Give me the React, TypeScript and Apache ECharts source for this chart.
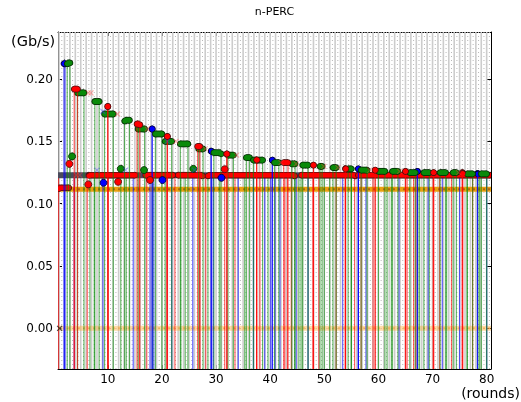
import React, { useEffect, useRef } from "react";
import * as echarts from "echarts";

const X_MIN = 0.8;
const X_MAX = 80.8;
const Y_MIN = -0.0326;
const Y_MAX = 0.2378;
const xTicks = [10, 20, 30, 40, 50, 60, 70, 80];
const yTicks = [0, 0.05, 0.1, 0.15, 0.2];

// Level of the dark base band and of the orange band (Gb/s)
const BASE_BAND = 0.1229;
const ORANGE_BAND = 0.1117;
const ZERO_BAND = 0.0;

// Green plateaus: [startRound, endRound, Gb/s]
const greenPlateaus = [
  [2.5, 3.0, 0.213], [4.4, 5.6, 0.189], [7.6, 8.4, 0.182], [9.4, 11.0, 0.172],
  [13.1, 14.0, 0.167], [15.6, 16.8, 0.16], [18.8, 20.0, 0.156], [20.6, 21.8, 0.15],
  [23.4, 24.8, 0.148], [26.8, 27.6, 0.144], [29.6, 30.9, 0.141], [32.2, 33.2, 0.139],
  [35.6, 36.2, 0.137], [36.9, 38.6, 0.135], [40.8, 41.6, 0.133], [44.0, 44.6, 0.132],
  [46.0, 47.0, 0.131], [49.2, 49.6, 0.13], [51.6, 52.2, 0.129], [54.4, 55.0, 0.128],
  [56.8, 57.9, 0.127], [60.0, 61.2, 0.126], [62.6, 63.6, 0.126], [65.8, 66.8, 0.125],
  [68.4, 69.4, 0.125], [71.4, 72.4, 0.125], [73.8, 74.4, 0.125], [76.4, 77.4, 0.124],
  [79.0, 80.0, 0.124],
];
// Red peaks: [startRound, endRound, Gb/s]
const redPeaks = [
  [3.8, 4.4, 0.192], [10.0, 10.0, 0.178], [15.4, 15.9, 0.164], [21.0, 21.0, 0.154],
  [26.6, 27.0, 0.146], [32.0, 32.0, 0.14], [37.5, 37.5, 0.136], [42.5, 43.3, 0.133],
  [48.0, 48.0, 0.131], [53.9, 53.9, 0.129], [59.4, 59.4, 0.127], [65.0, 65.0, 0.126],
  [70.2, 70.2, 0.125], [75.5, 75.5, 0.125],
];
// Blue peaks: [startRound, endRound, Gb/s]
const bluePeaks = [
  [1.9, 2.1, 0.213], [18.2, 18.2, 0.16], [29.1, 29.1, 0.143], [40.4, 40.4, 0.135],
  [56.3, 56.3, 0.128], [67.2, 67.2, 0.126], [78.3, 78.3, 0.125],
];
// Isolated points: [round, Gb/s]
const redPoints = [[2.9, 0.132], [6.4, 0.1155], [11.9, 0.1176], [17.8, 0.119], [31.6, 0.1277]];
const bluePoints = [[9.2, 0.1168], [20.1, 0.119], [31.0, 0.1208]];
const greenPoints = [[3.4, 0.138], [12.4, 0.128], [16.7, 0.127], [25.8, 0.128]];
const blackPoints = [[1.1, 0.0]];
// Red marker runs along the base band: [startRound, endRound]
const redBandRuns = [[6.5, 15.0], [17.0, 22.0], [23.0, 27.5], [28.5, 44.5], [45.8, 55.7], [56.3, 80.6]];
// Red run at the left on the orange band
const redLeftRun = [[0.9, 2.8, 0.1128]];
// Faint "x" markers: [round, Gb/s]
const pinkCrosses = [
  [6.4, 0.189], [6.9, 0.189], [11.8, 0.172], [17.3, 0.16], [22.6, 0.15], [28.0, 0.144],
  [33.8, 0.139], [42.0, 0.133], [44.8, 0.132], [49.9, 0.13], [52.5, 0.129], [58.4, 0.127],
  [63.9, 0.126], [74.8, 0.125], [4.2, 0.123], [4.8, 0.123],
];
const blueCrosses = [[8.0, 0.127], [13.3, 0.127], [21.0, 0.15], [9.1, 0.174], [26.0, 0.127]];
// Rounds where the traces fall below the axis (vertical lines)
const blueDrops = [2.0, 3.8, 9.1, 14.7, 17.8, 18.5, 21.8, 25.7, 29.2, 29.5, 34.1, 36.9, 39.0, 40.1, 40.9, 41.8, 44.8, 47.0, 53.4, 56.3, 57.7, 63.8, 69.2, 71.8, 75.0, 80.0];
const redDrops = [0.9, 3.8, 6.2, 10.1, 15.8, 17.2, 20.9, 22.4, 27.0, 28.1, 31.6, 33.5, 37.5, 38.1, 42.7, 43.2, 43.9, 47.9, 49.0, 52.2, 53.9, 55.6, 56.8, 59.0, 65.3, 66.5, 66.9, 70.1, 71.3, 73.5, 75.6, 77.4];
const greenDrops = [6.7, 7.5, 12.4, 13.4, 18.3, 23.5, 24.3, 28.5, 30.6, 35.3, 39.6, 44.5, 45.3, 45.7, 50.0, 51.0, 55.0, 61.6, 62.4, 67.3, 67.6, 72.6, 76.4, 78.4, 78.7];

const RED = "#ff0000";
const BLUE = "#0000ff";
const GREEN = "#0a8a0a";
const FONT = "DejaVu Sans";
const LINE_W = 1.2;
const LINE_OP = 0.62;

const gridRounds = Array.from({ length: 80 }, (_, i) => [i + 1]);
const halfRounds = Array.from({ length: 80 }, (_, i) => [i + 1.5]);

function vlineRender(color: string, width: number, opacity: number, dash?: number[]) {
  return (_p: any, api: any) => {
    const x = api.value(0);
    const a = api.coord([x, Y_MIN]);
    const b = api.coord([x, Y_MAX]);
    return {
      type: "line",
      shape: { x1: a[0], y1: a[1], x2: b[0], y2: b[1] },
      style: { stroke: color, lineWidth: width, opacity, lineDash: dash },
    };
  };
}

function dropRender(color: string) {
  return (_p: any, api: any) => {
    const x = api.value(0);
    const top = api.value(1);
    const a = api.coord([x, Y_MIN]);
    const b = api.coord([x, top]);
    return {
      type: "line",
      shape: { x1: a[0], y1: a[1], x2: b[0], y2: b[1] },
      style: { stroke: color, lineWidth: LINE_W, opacity: LINE_OP },
    };
  };
}

function pillRender(fill: string, edge: string, withLines: boolean, r: number) {
  return (_p: any, api: any) => {
    const s = api.value(0);
    const e = api.value(1);
    const v = api.value(2);
    const ps = api.coord([s, v]);
    const pe = api.coord([e, v]);
    const children: any[] = [];
    if (withLines) {
      const bs = api.coord([s, Y_MIN]);
      const be = api.coord([e, Y_MIN]);
      children.push({ type: "line", shape: { x1: bs[0], y1: bs[1], x2: ps[0], y2: ps[1] }, style: { stroke: fill, lineWidth: LINE_W, opacity: LINE_OP } });
      children.push({ type: "line", shape: { x1: be[0], y1: be[1], x2: pe[0], y2: pe[1] }, style: { stroke: fill, lineWidth: LINE_W, opacity: LINE_OP } });
    }
    const w = Math.max(0, pe[0] - ps[0]);
    const ri = r - 0.9;
    children.push({ type: "rect", shape: { x: ps[0], y: ps[1] - r, width: w, height: 2 * r }, style: { fill: edge } });
    children.push({ type: "circle", shape: { cx: ps[0], cy: ps[1], r }, style: { fill: edge } });
    children.push({ type: "circle", shape: { cx: pe[0], cy: pe[1], r }, style: { fill: edge } });
    children.push({ type: "rect", shape: { x: ps[0], y: ps[1] - ri, width: w, height: 2 * ri }, style: { fill } });
    children.push({ type: "circle", shape: { cx: ps[0], cy: ps[1], r: ri }, style: { fill } });
    children.push({ type: "circle", shape: { cx: pe[0], cy: pe[1], r: ri }, style: { fill } });
    return { type: "group", children };
  };
}

function bandRender(color: string, width: number, dashColor?: string) {
  return (_p: any, api: any) => {
    const v = api.value(0);
    const a = api.coord([X_MIN, v]);
    const b = api.coord([X_MAX, v]);
    const children: any[] = [
      { type: "line", shape: { x1: a[0], y1: a[1], x2: b[0], y2: b[1] }, style: { stroke: color, lineWidth: width } },
    ];
    if (dashColor) {
      children.push({ type: "line", shape: { x1: a[0], y1: a[1], x2: b[0], y2: b[1] }, style: { stroke: dashColor, lineWidth: 2, lineDash: [2, 3] } });
    }
    return { type: "group", children };
  };
}

const CROSS = "path://M0 0L10 10M10 0L0 10";

export default function App() {
  const ref = useRef<HTMLDivElement>(null);
  useEffect(() => {
    if (!ref.current) return;
    const chart = echarts.init(ref.current, null, { renderer: "svg" });
    const axisBase = {
      type: "value",
      axisLine: { show: true, onZero: false, lineStyle: { color: "#000", width: 1 } },
      splitLine: { show: false },
    };
    const custom = (name: string, data: any[], renderItem: any, dims: any, z = 2) => ({
      type: "custom",
      name,
      data,
      renderItem,
      encode: dims,
      clip: true,
      z,
      silent: true,
    });
    chart.setOption({
      animation: false,
      grid: { left: 58, right: 30, top: 32, bottom: 33 },
      xAxis: [
        {
          ...axisBase,
          position: "bottom",
          min: X_MIN,
          max: X_MAX,
          axisTick: { show: true, inside: true, length: 4, customValues: xTicks, lineStyle: { color: "#000" } },
          axisLabel: { customValues: xTicks, color: "#000", fontSize: 12, fontFamily: FONT, margin: 4 },
        },
        {
          ...axisBase,
          position: "top",
          min: X_MIN,
          max: X_MAX,
          axisTick: { show: true, inside: true, length: 4, customValues: xTicks, lineStyle: { color: "#000" } },
          axisLabel: { show: false },
        },
      ],
      yAxis: [
        {
          ...axisBase,
          position: "left",
          min: Y_MIN,
          max: Y_MAX,
          axisTick: { show: true, inside: true, length: 4, customValues: yTicks, lineStyle: { color: "#000" } },
          axisLabel: {
            customValues: yTicks,
            color: "#000",
            fontSize: 12,
            fontFamily: FONT,
            margin: 5,
            formatter: (v: number) => v.toFixed(2),
          },
        },
        {
          ...axisBase,
          position: "right",
          min: Y_MIN,
          max: Y_MAX,
          axisTick: { show: true, inside: true, length: 4, customValues: yTicks, lineStyle: { color: "#000" } },
          axisLabel: { show: false },
        },
      ],
      graphic: [
        { type: "text", x: 274.5, y: 11, style: { text: "n-PERC", fontSize: 11, fontFamily: FONT, fill: "#000", align: "center", verticalAlign: "middle" } },
        { type: "text", x: 11, y: 41, style: { text: "(Gb/s)", fontSize: 14.5, fontFamily: FONT, fill: "#000", align: "left", verticalAlign: "middle" } },
        { type: "text", x: 520, y: 393, style: { text: "(rounds)", fontSize: 14, fontFamily: FONT, fill: "#000", align: "right", verticalAlign: "middle" } },
      ],
      series: [
        custom("grid-solid", gridRounds, vlineRender("#cccccc", 1.6, 1), { x: 0 }, 1),
        custom("grid-dot", halfRounds, vlineRender("#b8b8b8", 1, 1, [1, 3]), { x: 0 }, 1),
        custom("zero-band", [[ZERO_BAND]], bandRender("rgba(255,175,60,0.45)", 5, "rgba(240,150,40,0.45)"), { y: 0 }, 2),
        custom("orange-band", [[ORANGE_BAND]], bandRender("#e8a010", 5, "#b06a10"), { y: 0 }, 2),
        custom("blue-drops", blueDrops.map((x) => [x, BASE_BAND]), dropRender(BLUE), { x: 0, y: 1 }, 3),
        custom("green-drops", greenDrops.map((x) => [x, BASE_BAND]), dropRender(GREEN), { x: 0, y: 1 }, 3),
        custom("red-drops", redDrops.map((x) => [x, BASE_BAND]), dropRender(RED), { x: 0, y: 1 }, 3),
        custom("base-band", [[BASE_BAND]], bandRender("#4a4a5c", 6), { y: 0 }, 4),
        custom("red-band", redBandRuns.map((r) => [r[0], r[1], BASE_BAND]), pillRender(RED, "#5a1010", false, 3.3), { x: [0, 1], y: 2 }, 5),
        custom("red-left", redLeftRun, pillRender(RED, "#5a1010", false, 3.3), { x: [0, 1], y: 2 }, 5),
        custom("blue-peaks", bluePeaks, pillRender(BLUE, "#000040", true, 3.4), { x: [0, 1], y: 2 }, 6),
        custom("green-plateaus", greenPlateaus, pillRender(GREEN, "#063306", true, 3.4), { x: [0, 1], y: 2 }, 6),
        custom("red-peaks", redPeaks, pillRender(RED, "#5a1010", true, 3.4), { x: [0, 1], y: 2 }, 7),
        {
          type: "scatter", data: redPoints, symbolSize: 7, z: 8, silent: true,
          itemStyle: { color: RED, borderColor: "#5a1010", borderWidth: 0.9, opacity: 1 },
        },
        {
          type: "scatter", data: bluePoints, symbolSize: 7, z: 8, silent: true,
          itemStyle: { color: BLUE, borderColor: "#000040", borderWidth: 0.9, opacity: 1 },
        },
        {
          type: "scatter", data: greenPoints, symbolSize: 7, z: 8, silent: true,
          itemStyle: { color: GREEN, borderColor: "#063306", borderWidth: 0.9, opacity: 1 },
        },
        {
          type: "scatter", data: pinkCrosses, symbol: CROSS, symbolSize: 5, z: 8, silent: true,
          itemStyle: { color: "transparent", borderColor: "rgba(255,60,60,0.5)", borderWidth: 1.2 },
        },
        {
          type: "scatter", data: blueCrosses, symbol: CROSS, symbolSize: 5, z: 8, silent: true,
          itemStyle: { color: "transparent", borderColor: "rgba(60,60,255,0.5)", borderWidth: 1.2 },
        },
        {
          type: "scatter", data: blackPoints, symbol: CROSS, symbolSize: 5, z: 8, silent: true,
          itemStyle: { color: "transparent", borderColor: "#222", borderWidth: 1.2 },
        },
      ],
    });
    return () => chart.dispose();
  }, []);
  return <div ref={ref} style={{ position: "fixed", left: 0, top: 0, width: 521, height: 402 }} />;
}
